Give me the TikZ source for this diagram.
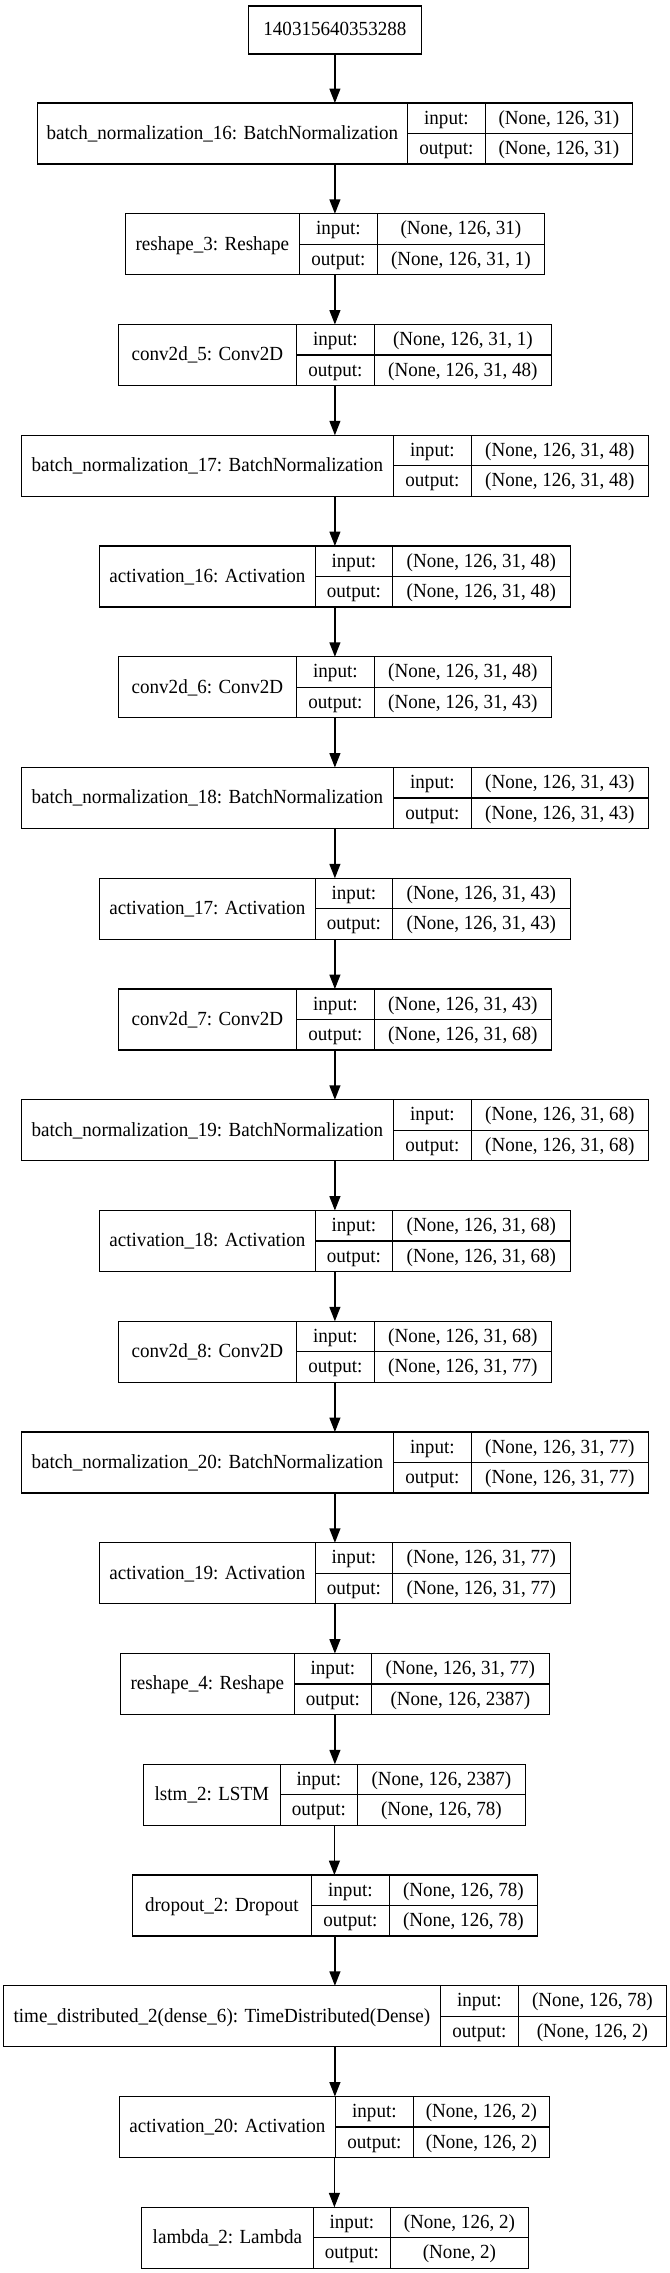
\documentclass[tikz,border=0pt]{standalone}
\usepackage{fontspec}
\usepackage{graphicx}
\setmainfont{Liberation Serif}
\usetikzlibrary{arrows.meta}
\tikzset{
  layerbox/.style={draw=black, line width=1pt, inner sep=0pt, outer sep=0pt, minimum height=45.75pt},
  cellline/.style={draw=black, line width=1pt},
  txt/.style={inner sep=0pt, anchor=base, font=\fontsize{14.3}{17}\selectfont},
  arr/.style={draw=black, line width=1pt, -{Triangle[length=10.8pt,width=8.2pt]}},
}
\newcommand\vstr[1]{\scalebox{1}[1.05]{#1}}
\newcommand\kerlayer[9]{%
  \pgfmathsetmacro\ty{103+110.75*#2}%
  \pgfmathsetmacro\bw{(#6-#3)*0.75}%
  \node[layerbox, minimum width=\bw pt, anchor=north west] (#1) at (#3,\ty) {};
  \draw[cellline] (#4,\ty) -- (#4,{\ty+61});
  \draw[cellline] (#5,\ty) -- (#5,{\ty+61});
  \draw[cellline] (#4,{\ty+30.5}) -- (#6,{\ty+30.5});
  \node[txt] (#1-l) at ({(#3+#4)/2},{\ty+36.3}) {\vstr{#7}};
  \node[txt] (#1-ik) at ({(#4+#5)/2},{\ty+21.2}) {\vstr{input:}};
  \node[txt] (#1-ok) at ({(#4+#5)/2},{\ty+51.6}) {\vstr{output:}};
  \node[txt] (#1-iv) at ({(#5+#6)/2},{\ty+21.2}) {\vstr{#8}};
  \node[txt] (#1-ov) at ({(#5+#6)/2},{\ty+51.6}) {\vstr{#9}};
}
\begin{document}
\begin{tikzpicture}[x=0.75pt,y=-0.75pt]
\useasboundingbox (0,0) rectangle (669,2273);
\begin{scope}[xshift=-1.2pt]
\node[layerbox, minimum width=129.75pt, minimum height=36pt, anchor=north west] (n0) at (250,6) {};
\node[txt] (n0-t) at (336.5,35.8) {\vstr{140315640353288}};
\kerlayer{n1}{0}{39}{409}{487}{634}{batch\_normalization\_16: BatchNormalization}{(None, 126, 31)}{(None, 126, 31)}
\kerlayer{n2}{1}{127}{301}{379}{546}{reshape\_3: Reshape}{(None, 126, 31)}{(None, 126, 31, 1)}
\kerlayer{n3}{2}{120}{298}{376}{553}{conv2d\_5: Conv2D}{(None, 126, 31, 1)}{(None, 126, 31, 48)}
\kerlayer{n4}{3}{23}{395}{473}{650}{batch\_normalization\_17: BatchNormalization}{(None, 126, 31, 48)}{(None, 126, 31, 48)}
\kerlayer{n5}{4}{101}{317}{394}{572}{activation\_16: Activation}{(None, 126, 31, 48)}{(None, 126, 31, 48)}
\kerlayer{n6}{5}{120}{298}{376}{553}{conv2d\_6: Conv2D}{(None, 126, 31, 48)}{(None, 126, 31, 43)}
\kerlayer{n7}{6}{23}{395}{473}{650}{batch\_normalization\_18: BatchNormalization}{(None, 126, 31, 43)}{(None, 126, 31, 43)}
\kerlayer{n8}{7}{101}{317}{394}{572}{activation\_17: Activation}{(None, 126, 31, 43)}{(None, 126, 31, 43)}
\kerlayer{n9}{8}{120}{298}{376}{553}{conv2d\_7: Conv2D}{(None, 126, 31, 43)}{(None, 126, 31, 68)}
\kerlayer{n10}{9}{23}{395}{473}{650}{batch\_normalization\_19: BatchNormalization}{(None, 126, 31, 68)}{(None, 126, 31, 68)}
\kerlayer{n11}{10}{101}{317}{394}{572}{activation\_18: Activation}{(None, 126, 31, 68)}{(None, 126, 31, 68)}
\kerlayer{n12}{11}{120}{298}{376}{553}{conv2d\_8: Conv2D}{(None, 126, 31, 68)}{(None, 126, 31, 77)}
\kerlayer{n13}{12}{23}{395}{473}{650}{batch\_normalization\_20: BatchNormalization}{(None, 126, 31, 77)}{(None, 126, 31, 77)}
\kerlayer{n14}{13}{101}{317}{394}{572}{activation\_19: Activation}{(None, 126, 31, 77)}{(None, 126, 31, 77)}
\kerlayer{n15}{14}{122}{296}{373}{551}{reshape\_4: Reshape}{(None, 126, 31, 77)}{(None, 126, 2387)}
\kerlayer{n16}{15}{145}{282}{359}{527}{lstm\_2: LSTM}{(None, 126, 2387)}{(None, 126, 78)}
\kerlayer{n17}{16}{134}{313}{391}{539}{dropout\_2: Dropout}{(None, 126, 78)}{(None, 126, 78)}
\kerlayer{n18}{17}{5}{442}{520}{668}{time\_distributed\_2(dense\_6): TimeDistributed(Dense)}{(None, 126, 78)}{(None, 126, 2)}
\kerlayer{n19}{18}{121}{337}{415}{551}{activation\_20: Activation}{(None, 126, 2)}{(None, 126, 2)}
\kerlayer{n20}{19}{143}{315}{392}{530}{lambda\_2: Lambda}{(None, 126, 2)}{(None, 2)}
\foreach \p/\q in {n0/n1,n1/n2,n2/n3,n3/n4,n4/n5,n5/n6,n6/n7,n7/n8,n8/n9,n9/n10,n10/n11,n11/n12,n12/n13,n13/n14,n14/n15,n15/n16,n16/n17,n17/n18,n18/n19,n19/n20}
  \draw[arr] (\p.south) -- (\p.south |- \q.north);
\end{scope}
\end{tikzpicture}
\end{document}
